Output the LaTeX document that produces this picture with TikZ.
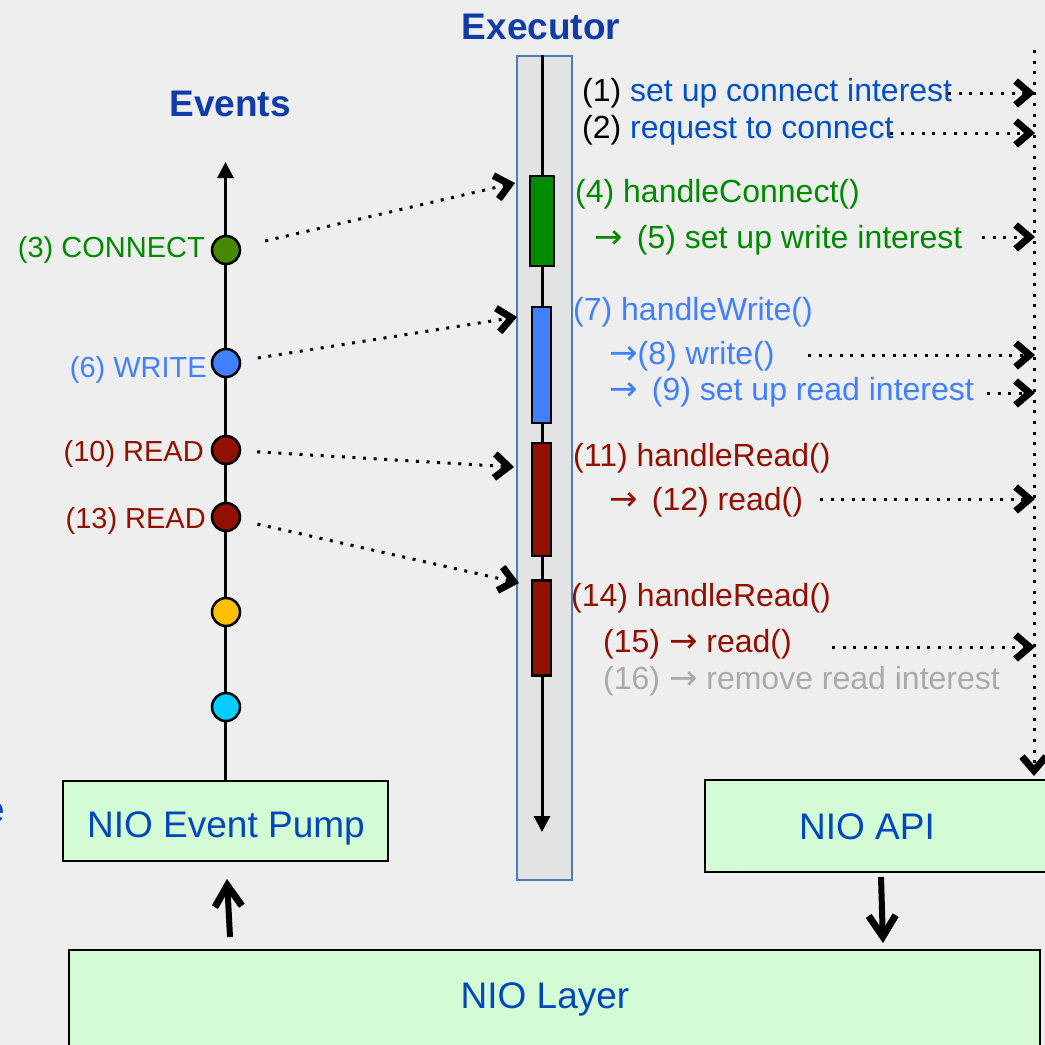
\documentclass[tikz,border=0pt]{standalone}
\usepackage{fontspec}
\setmainfont{Liberation Sans}
\newfontfamily\arrowfont{DejaVu Sans}
\newcommand\rarr{{\arrowfont\fontsize{34}{38}\selectfont →}}
\usetikzlibrary{arrows.meta}

\definecolor{bg}{RGB}{238,238,238}
\definecolor{lanefill}{RGB}{227,227,227}
\definecolor{laneborder}{RGB}{74,126,187}
\definecolor{boxfill}{RGB}{212,252,212}
\definecolor{navy}{RGB}{16,60,170}
\definecolor{boxtext}{RGB}{0,70,190}
\definecolor{linkblue}{RGB}{0,80,200}
\definecolor{sky}{RGB}{64,128,255}
\definecolor{leaf}{RGB}{0,138,0}
\definecolor{olive}{RGB}{70,136,0}
\definecolor{rust}{RGB}{145,16,0}
\definecolor{amber}{RGB}{255,192,0}
\definecolor{aqua}{RGB}{0,204,255}
\definecolor{faded}{RGB}{170,170,170}

\tikzset{
  x=1pt, y=-1pt,
  lbl/.style={inner sep=0, anchor=base west, font=\fontsize{32}{38}\selectfont},
  evlbl/.style={inner sep=0, anchor=base east, font=\fontsize{29}{34}\selectfont},
  heading/.style={inner sep=0, anchor=base, text=navy, font=\fontsize{37}{44}\selectfont\bfseries},
  boxlbl/.style={inner sep=0, anchor=base, text=boxtext, font=\fontsize{37}{44}\selectfont},
  evdot/.style={circle, draw=black, line width=2.5pt, minimum size=28pt, inner sep=0},
  handler/.style={draw=black, line width=2.5pt, inner sep=0},
  layerbox/.style={draw=black, line width=2pt, fill=boxfill, inner sep=0},
  call/.style={line width=3pt, dash pattern=on 3pt off 7.6pt,
    -{Straight Barb[length=14pt, width=24pt, line width=7pt]}},
  feed/.style={line width=6pt, -{Straight Barb[length=21pt, width=27pt, line width=7pt]}},
  timeline/.style={line width=3pt, -{Triangle[length=16pt, width=16pt]}},
}

\begin{document}
\begin{tikzpicture}
  % canvas
  \fill[bg] (0,0) rectangle (1045,1045);
  \useasboundingbox (0,0) rectangle (1045,1045);

  % headings
  \node[heading] (exec) at (541,39) {Executor};
  \node[heading] (events) at (230,116) {Events};

  % executor lane and its thread of control
  \node[draw=laneborder, fill=lanefill, line width=2pt, inner sep=0,
        minimum width=55pt, minimum height=824pt] (lane) at (544.5,468) {};
  \coordinate (extop) at (542,55);
  \coordinate (exbot) at (542,832);
  \draw[timeline] (extop) -- (exbot);

  % handler activations
  \node[handler, fill=leaf, minimum width=24pt, minimum height=90pt] (b4) at (542,221) {};
  \node[handler, fill=sky, minimum width=19pt, minimum height=116pt] (b7) at (541.5,365) {};
  \node[handler, fill=rust, minimum width=19pt, minimum height=113pt] (b11) at (541.5,499.5) {};
  \node[handler, fill=rust, minimum width=19pt, minimum height=95pt] (b14) at (541.5,628) {};

  % bottom layer boxes
  \node[layerbox, minimum width=325pt, minimum height=80pt] (pump) at (225.5,821) {};
  \node[boxlbl] (pumplbl) at (226,837) {NIO Event Pump};
  \node[layerbox, minimum width=360pt, minimum height=92pt] (api) at (885,826) {};
  \node[boxlbl] (apilbl) at (867,839) {NIO API};
  \node[layerbox, minimum width=971pt, minimum height=140pt] (layer) at (554.5,1020) {};
  \node[boxlbl] (layerlbl) at (545,1008) {NIO Layer};
  \node[boxlbl, anchor=base east] (cut) at (5,822) {e};

  % event timeline
  \coordinate (evtop) at (225.5,162);
  \draw[timeline] (pump.north) -- (evtop);
  \node[evdot, fill=olive] (c3) at (226,250) {};
  \node[evdot, fill=sky] (c6) at (226,363) {};
  \node[evdot, fill=rust] (c10) at (226,450) {};
  \node[evdot, fill=rust] (c13) at (226,517) {};
  \node[evdot, fill=amber] (cy) at (226,612) {};
  \node[evdot, fill=aqua] (cc) at (226,707) {};

  \node[evlbl, text=leaf] (l3) at (205,257) {(3) CONNECT};
  \node[evlbl, text=sky] (l6) at (207,377) {(6) WRITE};
  \node[evlbl, text=rust] (l10) at (204,461) {(10) READ};
  \node[evlbl, text=rust] (l13) at (206,528) {(13) READ};

  % events dispatched to handlers
  \coordinate (t4) at (515,183);
  \coordinate (t7) at (517,317);
  \coordinate (t11) at (514,467);
  \coordinate (t14) at (519,583);
  \draw[call, shorten <=25pt] (c3) -- (t4);
  \draw[call, shorten <=17pt] (c6) -- (t7);
  \draw[call, shorten <=16pt] (c10) -- (t11);
  \draw[call, shorten <=17pt] (c13) -- (t14);

  % executor actions
  \node[lbl, text=linkblue] (n1) at (582,101) {\textcolor{black}{(1)} set up connect interest};
  \node[lbl, text=linkblue] (n2) at (582,138) {\textcolor{black}{(2)} request to connect};
  \node[lbl, text=leaf] (n4) at (575,202) {(4) handleConnect()};
  \node[lbl, text=leaf] (n5) at (594,248) {\rarr\ \,(5) set up write interest};
  \node[lbl, text=sky] (n7) at (573,320) {(7) handleWrite()};
  \node[lbl, text=sky] (n8) at (609,364) {\rarr(8) write()};
  \node[lbl, text=sky] (n9) at (609,400) {\rarr\ \,(9) set up read interest};
  \node[lbl, text=rust] (n11) at (573,466) {(11) handleRead()};
  \node[lbl, text=rust] (n12) at (609,510) {\rarr\ \,(12) read()};
  \node[lbl, text=rust] (n14) at (571,606) {(14) handleRead()};
  \node[lbl, text=rust] (n15) at (603,652) {(15) \rarr\ read()};
  \node[lbl, text=faded] (n16) at (603,689) {(16) \rarr\ remove read interest};

  % calls into the NIO API
  \coordinate (railtop) at (1034,50);
  \coordinate (railbot) at (1034,776);
  \draw[call] (railtop) -- (railbot);
  \coordinate (s1) at (948,93);   \coordinate (e1) at (1035,93);
  \coordinate (s2) at (890,133);  \coordinate (e2) at (1035,133);
  \coordinate (s5) at (982,237);  \coordinate (e5) at (1035,237);
  \coordinate (s8) at (808,355);  \coordinate (e8) at (1035,355);
  \coordinate (s9) at (987,393);  \coordinate (e9) at (1035,393);
  \coordinate (s12) at (820,499); \coordinate (e12) at (1035,499);
  \coordinate (s15) at (832,647); \coordinate (e15) at (1035,647);
  \foreach \k in {1,2,5,8,9,12,15} {\draw[call] (s\k) -- (e\k);}

  % layer interaction
  \coordinate (up0) at (230,937);
  \coordinate (up1) at (227,879);
  \draw[feed] (up0) -- (up1);
  \coordinate (dn0) at (881,877);
  \coordinate (dn1) at (883,943);
  \draw[feed] (dn0) -- (dn1);
\end{tikzpicture}
\end{document}
